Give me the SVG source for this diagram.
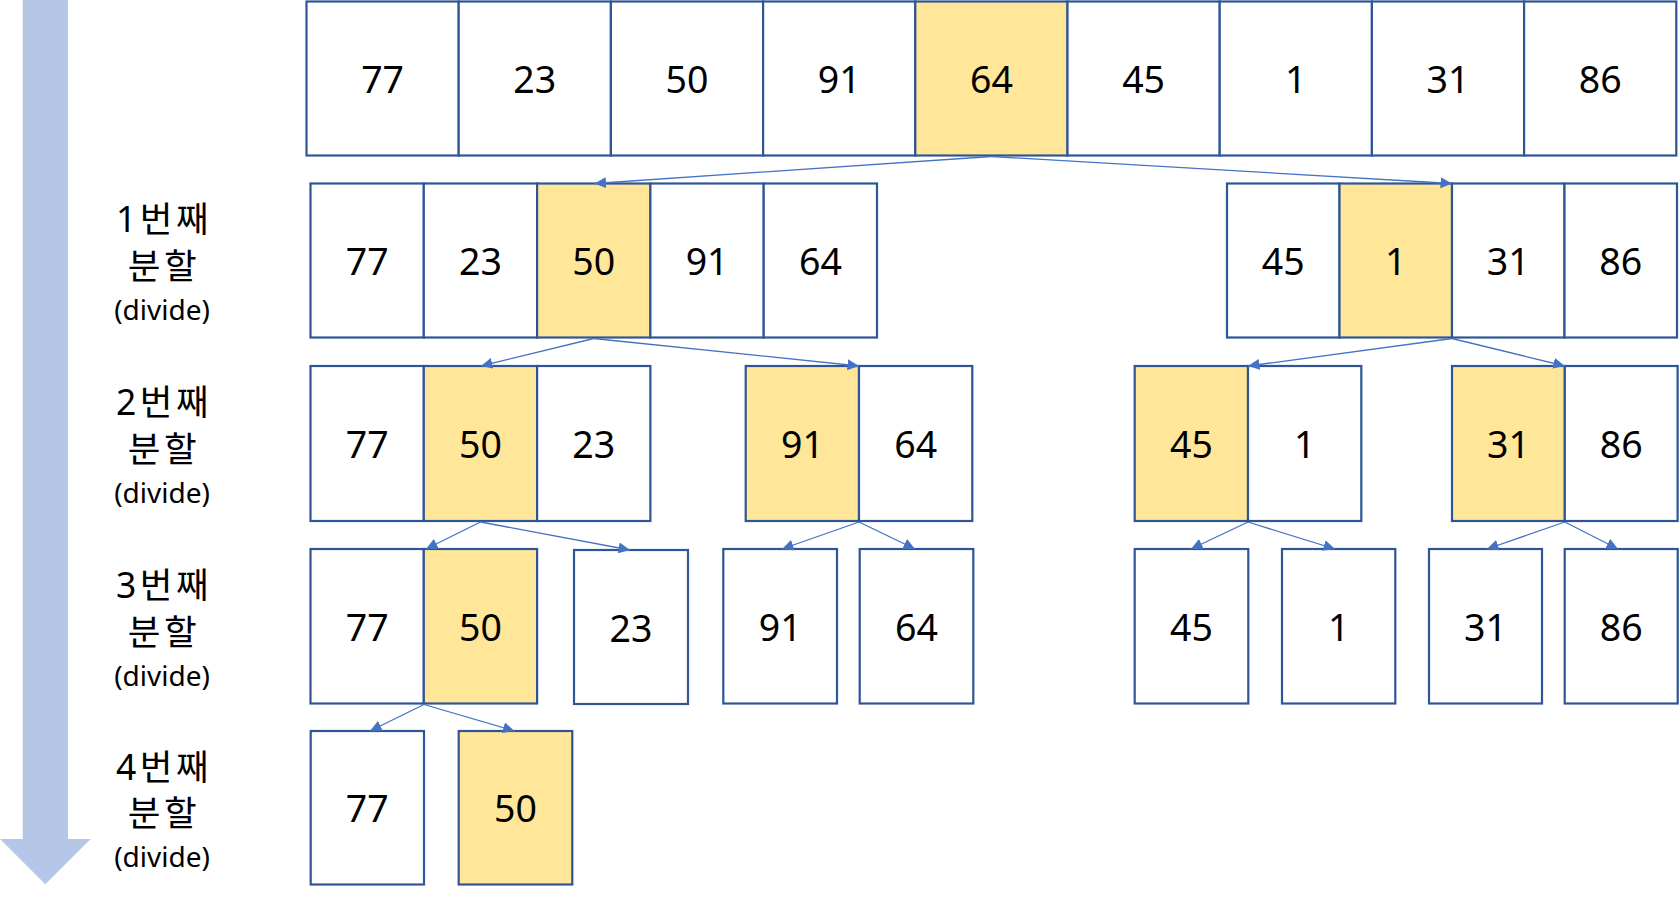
<svg xmlns="http://www.w3.org/2000/svg" width="1679" height="899" viewBox="0 0 1679 899">
<style>
.c{fill:#FFFFFF;stroke:#2F5597;stroke-width:2.2}
.p{fill:#FFE699;stroke:#2F5597;stroke-width:2.2}
.n{font-family:"Noto Sans","Noto Sans CJK KR",sans-serif;font-size:37.5px;fill:#000;text-anchor:middle}
.l{font-family:"Noto Sans","Noto Sans CJK KR",sans-serif;font-size:35.5px;fill:#000;text-anchor:middle;letter-spacing:3.5px}
.d{font-family:"Noto Sans","Noto Sans CJK KR",sans-serif;font-size:28px;fill:#000;text-anchor:middle}
.k{stroke:#4472C4;stroke-width:1.3;fill:none;marker-end:url(#ah)}
</style>
<defs>
<marker id="ah" markerUnits="userSpaceOnUse" markerWidth="12" markerHeight="11" refX="11.5" refY="5.5" orient="auto">
<path d="M0,0 L11.5,5.5 L0,11 z" fill="#4472C4"/>
</marker>
</defs>
<rect width="1679" height="899" fill="#FFFFFF"/>

<g id="progress-arrow">
<path d="M22.7,0 L68,0 L68,839 L90.7,839 L45.3,884.3 L0,839 L22.7,839 z" fill="#B4C7E7"/>
</g>

<g id="labels">
<g id="label-1"><text class="l" x="164" y="232">1번째</text><text class="l" x="164" y="279">분할</text><text class="d" x="162" y="320">(divide)</text></g>
<g id="label-2"><text class="l" x="164" y="414.5">2번째</text><text class="l" x="164" y="462">분할</text><text class="d" x="162" y="502.5">(divide)</text></g>
<g id="label-3"><text class="l" x="164" y="597.5">3번째</text><text class="l" x="164" y="645">분할</text><text class="d" x="162" y="685.5">(divide)</text></g>
<g id="label-4"><text class="l" x="164" y="779.5">4번째</text><text class="l" x="164" y="826">분할</text><text class="d" x="162" y="867">(divide)</text></g>
</g>

<g id="row0">
<g id="r0-77"><rect class="c" x="306.5" y="1.5" width="152.2" height="154"/><text class="n" x="382.6" y="92.5">77</text></g>
<g id="r0-23"><rect class="c" x="458.7" y="1.5" width="152.2" height="154"/><text class="n" x="534.8" y="92.5">23</text></g>
<g id="r0-50"><rect class="c" x="610.9" y="1.5" width="152.2" height="154"/><text class="n" x="687" y="92.5">50</text></g>
<g id="r0-91"><rect class="c" x="763.1" y="1.5" width="152.2" height="154"/><text class="n" x="839.2" y="92.5">91</text></g>
<g id="r0-64"><rect class="p" x="915.3" y="1.5" width="152.2" height="154"/><text class="n" x="991.4" y="92.5">64</text></g>
<g id="r0-45"><rect class="c" x="1067.5" y="1.5" width="152.2" height="154"/><text class="n" x="1143.6" y="92.5">45</text></g>
<g id="r0-1"><rect class="c" x="1219.7" y="1.5" width="152.2" height="154"/><text class="n" x="1295.8" y="92.5">1</text></g>
<g id="r0-31"><rect class="c" x="1371.9" y="1.5" width="152.2" height="154"/><text class="n" x="1448" y="92.5">31</text></g>
<g id="r0-86"><rect class="c" x="1524.1" y="1.5" width="152.2" height="154"/><text class="n" x="1600.2" y="92.5">86</text></g>
</g>

<g id="row1">
<g id="r1-77"><rect class="c" x="310.5" y="183.5" width="113.3" height="154"/><text class="n" x="367.2" y="275">77</text></g>
<g id="r1-23"><rect class="c" x="423.8" y="183.5" width="113.3" height="154"/><text class="n" x="480.5" y="275">23</text></g>
<g id="r1-50"><rect class="p" x="537.1" y="183.5" width="113.3" height="154"/><text class="n" x="593.8" y="275">50</text></g>
<g id="r1-91"><rect class="c" x="650.4" y="183.5" width="113.3" height="154"/><text class="n" x="707.1" y="275">91</text></g>
<g id="r1-64"><rect class="c" x="763.7" y="183.5" width="113.3" height="154"/><text class="n" x="820.4" y="275">64</text></g>
<g id="r1-45"><rect class="c" x="1227" y="183.5" width="112.5" height="154"/><text class="n" x="1283.3" y="275">45</text></g>
<g id="r1-1"><rect class="p" x="1339.5" y="183.5" width="112.5" height="154"/><text class="n" x="1395.8" y="275">1</text></g>
<g id="r1-31"><rect class="c" x="1452" y="183.5" width="112.5" height="154"/><text class="n" x="1508.3" y="275">31</text></g>
<g id="r1-86"><rect class="c" x="1564.5" y="183.5" width="112.5" height="154"/><text class="n" x="1620.8" y="275">86</text></g>
</g>

<g id="row2">
<g id="r2-77"><rect class="c" x="310.5" y="366" width="113.3" height="155"/><text class="n" x="367.2" y="458">77</text></g>
<g id="r2-50"><rect class="p" x="423.8" y="366" width="113.3" height="155"/><text class="n" x="480.5" y="458">50</text></g>
<g id="r2-23"><rect class="c" x="537.1" y="366" width="113.3" height="155"/><text class="n" x="593.8" y="458">23</text></g>
<g id="r2-91"><rect class="p" x="745.7" y="366" width="113.3" height="155"/><text class="n" x="802.4" y="458">91</text></g>
<g id="r2-64"><rect class="c" x="859" y="366" width="113.3" height="155"/><text class="n" x="915.7" y="458">64</text></g>
<g id="r2-45"><rect class="p" x="1134.7" y="366" width="113.3" height="155"/><text class="n" x="1191.4" y="458">45</text></g>
<g id="r2-1"><rect class="c" x="1248" y="366" width="113.3" height="155"/><text class="n" x="1304.7" y="458">1</text></g>
<g id="r2-31"><rect class="p" x="1452" y="366" width="112.8" height="155"/><text class="n" x="1508.4" y="458">31</text></g>
<g id="r2-86"><rect class="c" x="1564.8" y="366" width="112.8" height="155"/><text class="n" x="1621.2" y="458">86</text></g>
</g>

<g id="row3">
<g id="r3-77"><rect class="c" x="310.5" y="549" width="113.3" height="154.5"/><text class="n" x="367.2" y="640.5">77</text></g>
<g id="r3-50"><rect class="p" x="423.8" y="549" width="113.3" height="154.5"/><text class="n" x="480.5" y="640.5">50</text></g>
<g id="r3-23"><rect class="c" x="574" y="550" width="114" height="154"/><text class="n" x="631" y="641.5">23</text></g>
<g id="r3-91"><rect class="c" x="723.3" y="549" width="113.7" height="154.5"/><text class="n" x="780.2" y="640.5">91</text></g>
<g id="r3-64"><rect class="c" x="859.7" y="549" width="113.6" height="154.5"/><text class="n" x="916.5" y="640.5">64</text></g>
<g id="r3-45"><rect class="c" x="1134.7" y="549" width="113.6" height="154.5"/><text class="n" x="1191.5" y="640.5">45</text></g>
<g id="r3-1"><rect class="c" x="1282" y="549" width="113.3" height="154.5"/><text class="n" x="1338.7" y="640.5">1</text></g>
<g id="r3-31"><rect class="c" x="1429" y="549" width="113" height="154.5"/><text class="n" x="1485.5" y="640.5">31</text></g>
<g id="r3-86"><rect class="c" x="1564.7" y="549" width="113" height="154.5"/><text class="n" x="1621.2" y="640.5">86</text></g>
</g>

<g id="row4">
<g id="r4-77"><rect class="c" x="310.7" y="731" width="113.3" height="153.5"/><text class="n" x="367.3" y="822">77</text></g>
<g id="r4-50"><rect class="p" x="458.7" y="731" width="113.6" height="153.5"/><text class="n" x="515.5" y="822">50</text></g>
</g>

<g id="connectors">
<line class="k" x1="991.4" y1="156.5" x2="594.5" y2="183.5"/>
<line class="k" x1="991.4" y1="156.5" x2="1452" y2="183.5"/>
<line class="k" x1="593.8" y1="338.5" x2="481" y2="366"/>
<line class="k" x1="593.8" y1="338.5" x2="859" y2="366"/>
<line class="k" x1="1452" y1="338.5" x2="1248" y2="366"/>
<line class="k" x1="1452" y1="338.5" x2="1564.8" y2="366"/>
<line class="k" x1="480.5" y1="522" x2="426" y2="549"/>
<line class="k" x1="480.5" y1="522" x2="630" y2="550"/>
<line class="k" x1="859" y1="522" x2="782" y2="549"/>
<line class="k" x1="859" y1="522" x2="915" y2="549"/>
<line class="k" x1="1248" y1="522" x2="1191" y2="549"/>
<line class="k" x1="1248" y1="522" x2="1335" y2="549"/>
<line class="k" x1="1564.8" y1="522" x2="1487" y2="549"/>
<line class="k" x1="1564.8" y1="522" x2="1618" y2="549"/>
<line class="k" x1="424" y1="704.5" x2="370" y2="731"/>
<line class="k" x1="424" y1="704.5" x2="514.5" y2="731"/>
</g>
</svg>
